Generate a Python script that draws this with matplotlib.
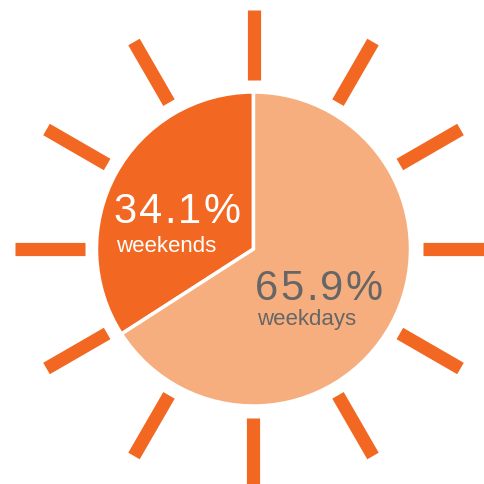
import numpy as np
import matplotlib
matplotlib.use("Agg")
import matplotlib.pyplot as plt

labels = ["weekends", "weekdays"]
shares = [34.1, 65.9]
colors = ["#F26722", "#F7AE7E"]
text_colors = ["white", "#666666"]

W = H = 484
cx, cy = 253.5, 484 - 249   # pie centre in pixel coords (y up)
R = 157
ray_in, ray_out = 169, 239

plt.rcParams['font.family'] = ['Liberation Sans', 'DejaVu Sans']
fig = plt.figure(figsize=(4.84, 4.84), dpi=100)
ax = fig.add_axes([0, 0, 1, 1])
ax.set_xlim(0, W); ax.set_ylim(0, H)
ax.set_aspect("equal")
ax.axis("off")

# sun rays
for a in np.deg2rad(np.arange(0, 360, 30)):
    ax.plot([cx + ray_in*np.cos(a), cx + ray_out*np.cos(a)],
            [cy + ray_in*np.sin(a), cy + ray_out*np.sin(a)],
            color="#F26722", lw=9.5, solid_capstyle="butt")

ax.pie(shares, colors=colors, startangle=90, counterclock=True,
       center=(cx, cy), radius=R,
       wedgeprops=dict(edgecolor="white", linewidth=2.5))
ax.set_xlim(0, W); ax.set_ylim(0, H)

renderer = fig.canvas.get_renderer()

def spaced_text(x, y, s, gap, **kw):
    # the big numbers in the original are tracked out a little
    for ch in s:
        t = ax.text(x, y, ch, ha="left", va="baseline", **kw)
        bb = t.get_window_extent(renderer)
        x = bb.x1 + gap

# labels: big percentage + small name (left-aligned, baseline)
pos = [((113, 223), (116, 252)), ((255, 300), (257, 325))]
for lab, v, tc, (p1, p2) in zip(labels, shares, text_colors, pos):
    spaced_text(p1[0], H - p1[1], f"{v}%", 2.4, fontsize=30, color=tc)
    ax.text(p2[0], H - p2[1], lab, fontsize=16, color=tc,
            ha="left", va="baseline")

fig.savefig("out.png", dpi=100)
